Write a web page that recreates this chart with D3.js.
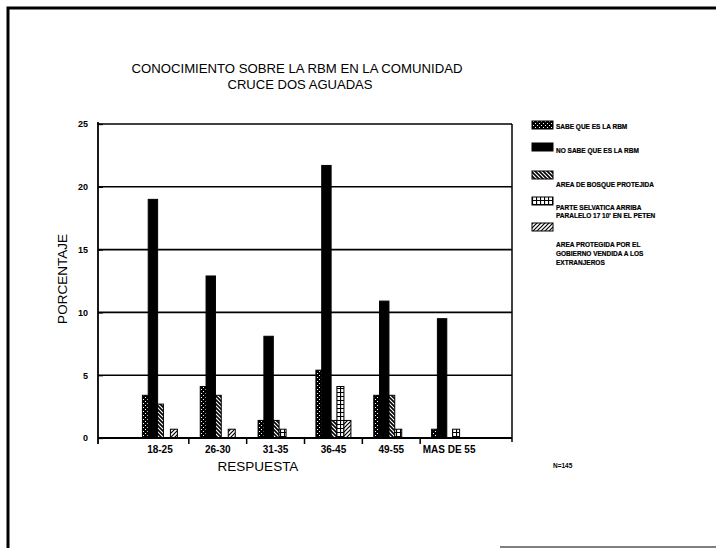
<!DOCTYPE html>
<html><head><meta charset="utf-8">
<script src="https://cdn.jsdelivr.net/npm/d3@7"></script>
<style>body{margin:0;background:#fff}svg{display:block}</style>
</head><body>
<svg id="c" width="716" height="548"></svg>
<script>
const categories = ["18-25","26-30","31-35","36-45","49-55","MAS DE 55"];
const seriesNames = ["SABE QUE ES LA RBM","NO SABE QUE ES LA RBM","AREA DE BOSQUE PROTEJIDA","PARTE SELVATICA ARRIBA PARALELO 17 10' EN EL PETEN","AREA PROTEGIDA POR EL GOBIERNO VENDIDA A LOS EXTRANJEROS"];
const legendLines = [["SABE QUE ES LA RBM"],["NO SABE QUE ES LA RBM"],["AREA DE BOSQUE PROTEJIDA"],["PARTE SELVATICA ARRIBA","PARALELO 17  10' EN EL PETEN"],["AREA PROTEGIDA POR EL","GOBIERNO VENDIDA A LOS","EXTRANJEROS"]];
const sabe     = [3.4, 4.1, 1.4, 5.4, 3.4, 0.7];
const noSabe   = [19.0, 12.9, 8.1, 21.7, 10.9, 9.5];
const bosque   = [2.7, 3.4, 1.4, 1.4, 3.4, 0];
const parte    = [0, 0, 0.7, 4.1, 0.7, 0.7];
const protegida= [0.7, 0.7, 0, 1.4, 0, 0];
const yTicks = [0,5,10,15,20,25];
const title1 = "CONOCIMIENTO SOBRE LA RBM EN LA COMUNIDAD";
const title2 = "CRUCE DOS AGUADAS";
const xTitle = "RESPUESTA", yTitle = "PORCENTAJE", note = "N=145";

const seriesValues = [sabe, noSabe, bosque, parte, protegida];
const svg = d3.select("#c");
const defs = svg.append("defs");
const p0 = defs.append("pattern").attr("id","p0").attr("width",4).attr("height",4).attr("patternUnits","userSpaceOnUse");
p0.append("rect").attr("width",4).attr("height",4).attr("fill","#000");
p0.append("rect").attr("x",1).attr("y",1).attr("width",1).attr("height",1).attr("fill","#fff");
p0.append("rect").attr("x",3).attr("y",3).attr("width",1).attr("height",1).attr("fill","#fff");
const p2 = defs.append("pattern").attr("id","p2").attr("width",4).attr("height",4).attr("patternUnits","userSpaceOnUse");
p2.append("rect").attr("width",4).attr("height",4).attr("fill","#fff");
p2.append("path").attr("d","M-1,-1L5,5M-1,3L1,5M3,-1L5,1").attr("stroke","#000").attr("stroke-width",1.6);
const p3 = defs.append("pattern").attr("id","p3").attr("width",4).attr("height",4).attr("patternUnits","userSpaceOnUse");
p3.append("rect").attr("width",4).attr("height",4).attr("fill","#fff");
p3.append("path").attr("d","M0,0.5H4M0.5,0V4").attr("stroke","#000").attr("stroke-width",1.2);
const p4 = defs.append("pattern").attr("id","p4").attr("width",4).attr("height",4).attr("patternUnits","userSpaceOnUse");
p4.append("rect").attr("width",4).attr("height",4).attr("fill","#fff");
p4.append("path").attr("d","M-1,5L5,-1M-1,1L1,-1M3,5L5,3").attr("stroke","#000").attr("stroke-width",1.2);
const fills = ["url(#p0)","#000","url(#p2)","url(#p3)","url(#p4)"];

svg.append("path").attr("d","M8,548V8H716").attr("fill","none").attr("stroke","#000").attr("stroke-width",3);
svg.append("line").attr("x1",500).attr("x2",716).attr("y1",547).attr("y2",547).attr("stroke","#000").attr("stroke-width",1);

const L=98, R=512;
const y = d3.scaleLinear().domain([0,25]).range([438,124]);
const x = d3.scaleBand().domain(categories).range([131,478]);
const x1 = d3.scaleBand().domain(d3.range(5)).range([x.bandwidth()/2-17.5, x.bandwidth()/2+17.5]);

svg.append("g").selectAll("line").data(yTicks.filter(d=>d>0)).join("line")
  .attr("x1",L).attr("x2",R).attr("y1",d=>y(d)).attr("y2",d=>y(d))
  .attr("stroke","#000").attr("stroke-width",1.6);
svg.append("line").attr("x1",R).attr("x2",R).attr("y1",y(25)).attr("y2",y(0)+4).attr("stroke","#000").attr("stroke-width",1.5);

const g = svg.append("g");
const order = [0,2,3,4,1];
categories.forEach((c,i)=>{
  order.forEach(s=>{
    const vals = seriesValues[s];
    if(vals[i]<=0) return;
    const extra = s===1 ? 1.2 : 0;
    g.append("rect").attr("x",x(c)+x1(s)-extra).attr("width",x1.bandwidth()+2*extra)
      .attr("y",y(vals[i])).attr("height",y(0)-y(vals[i]))
      .attr("fill",fills[s]).attr("stroke","#000").attr("stroke-width",1);
  });
});

const ya = svg.append("g").attr("transform",`translate(${L},0)`)
  .call(d3.axisLeft(y).tickValues(yTicks).tickSize(5).tickPadding(5).tickFormat(d3.format("d")));
ya.select(".domain").remove();
ya.selectAll(".tick line").attr("x2",5).attr("stroke-width",1.3);
ya.selectAll("text").attr("font-family","Liberation Sans, Arial").attr("font-weight","bold").attr("font-size",9);
svg.append("line").attr("x1",L).attr("x2",L).attr("y1",y(25)-2).attr("y2",y(0)+6).attr("stroke","#000").attr("stroke-width",1.8);

const xa = svg.append("g").attr("transform",`translate(0,${y(0)})`)
  .call(d3.axisBottom(x).tickSize(0).tickPadding(8));
xa.select(".domain").remove();
xa.selectAll("text").attr("font-family","Liberation Sans, Arial").attr("font-weight","bold").attr("font-size",10);
svg.append("line").attr("x1",L).attr("x2",R).attr("y1",y(0)).attr("y2",y(0)).attr("stroke","#000").attr("stroke-width",2);
svg.append("g").selectAll("line").data(categories.slice(1)).join("line")
  .attr("x1",d=>x(d)).attr("x2",d=>x(d)).attr("y1",y(0)).attr("y2",y(0)+6).attr("stroke","#000").attr("stroke-width",1.5);

const tf = "Liberation Sans, Arial";
svg.append("text").attr("x",297).attr("y",73).attr("text-anchor","middle").attr("font-family",tf).attr("font-size",13.5)
  .attr("textLength",331).attr("lengthAdjust","spacingAndGlyphs").text(title1);
svg.append("text").attr("x",300).attr("y",89).attr("text-anchor","middle").attr("font-family",tf).attr("font-size",13.5)
  .attr("textLength",145).attr("lengthAdjust","spacingAndGlyphs").text(title2);
svg.append("text").attr("x",258).attr("y",471).attr("text-anchor","middle").attr("font-family",tf).attr("font-size",13.5).text(xTitle);
svg.append("text").attr("transform","translate(67,279) rotate(-90)").attr("text-anchor","middle").attr("font-family",tf).attr("font-size",13.5).text(yTitle);
svg.append("text").attr("x",553).attr("y",468).attr("font-family",tf).attr("font-weight","bold").attr("font-size",6.5).text(note);

const swY = [121,143,171,197,223];
const txY = [[129],[153],[187],[210,218],[247,256,265]];
seriesNames.forEach((n,s)=>{
  svg.append("rect").attr("x",532).attr("y",swY[s]).attr("width",21).attr("height",8)
    .attr("fill",fills[s]).attr("stroke","#000").attr("stroke-width",1);
  legendLines[s].forEach((t,k)=>{
    svg.append("text").attr("x",556).attr("y",txY[s][k]).attr("font-family",tf).attr("font-weight","bold")
      .attr("font-size",6.5).attr("stroke","#000").attr("stroke-width",0.2).text(t);
  });
});
</script>
</body></html>
